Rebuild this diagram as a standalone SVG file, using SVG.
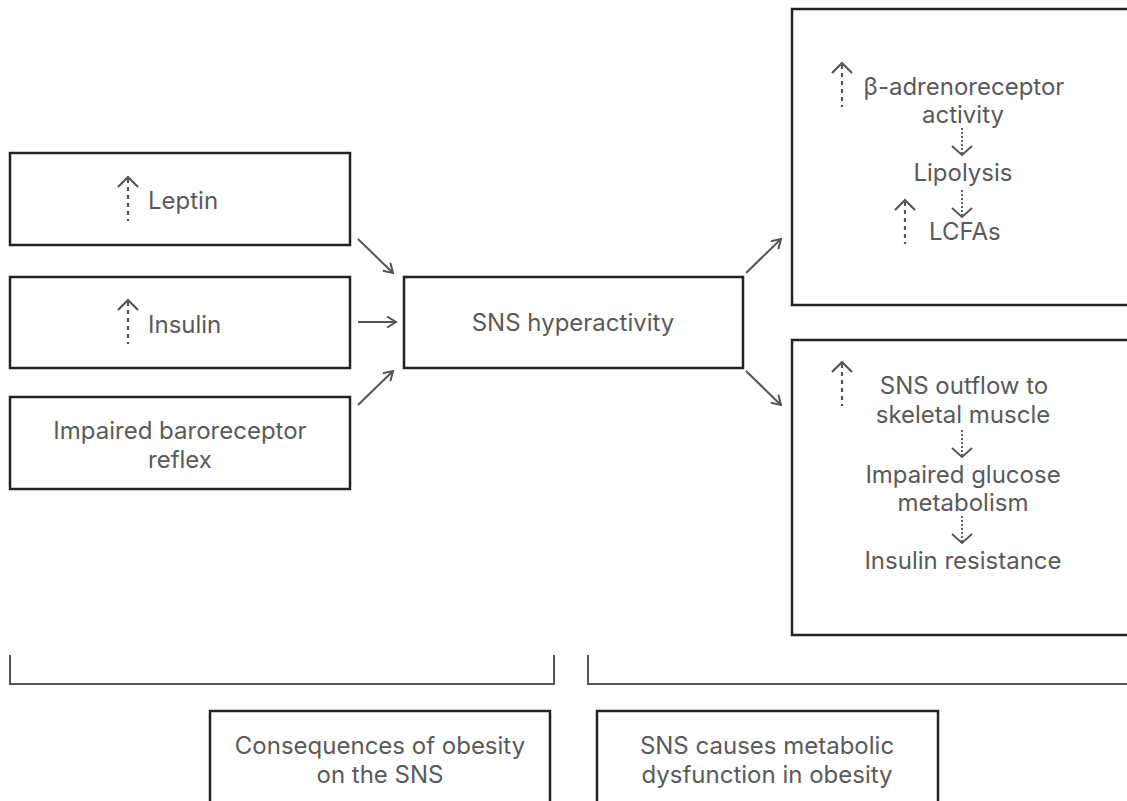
<svg xmlns="http://www.w3.org/2000/svg" width="1127" height="801" viewBox="0 0 1127 801">
<style>
.box{fill:#fff;stroke:#222;stroke-width:2.5}
.t{font-family:Inter,"Liberation Sans",sans-serif;font-size:24px;fill:#5a5a5a}
.c{text-anchor:middle}
.arr{fill:none;stroke:#555;stroke-width:2}
.up{fill:none;stroke:#555;stroke-width:2.2}
.upd{stroke-dasharray:4 4}
.dn{fill:none;stroke:#555;stroke-width:1.8}
.dnd{stroke-dasharray:2 2}
.br{fill:none;stroke:#555;stroke-width:2}
</style>
<defs>
<marker id="ah" viewBox="0 0 12 12" refX="10" refY="6" markerWidth="12" markerHeight="12" markerUnits="userSpaceOnUse" orient="auto">
<path d="M1,0.5 L10,6 L1,11.5" fill="none" stroke="#555" stroke-width="2"/>
</marker>
<g id="upicon">
<path class="up upd" d="M0,3 V45"/>
<path class="up" d="M-10,11 L0,1 L10,11"/>
</g>
<g id="dnicon">
<path class="dn dnd" d="M0,0 V26"/>
<path class="dn" d="M-10,18 L0,27 L10,18"/>
</g>
</defs>

<g id="node-leptin">
<rect class="box" x="10" y="153" width="340" height="92"/>
<use href="#upicon" x="128" y="176"/>
<text class="t" x="148" y="209">Leptin</text>
</g>
<g id="node-insulin">
<rect class="box" x="10" y="277" width="340" height="91"/>
<use href="#upicon" x="128" y="299"/>
<text class="t" x="148" y="333">Insulin</text>
</g>
<g id="node-baroreceptor">
<rect class="box" x="10" y="397" width="340" height="92"/>
<text class="t c" x="180" y="439">Impaired baroreceptor</text>
<text class="t c" x="180" y="468">reflex</text>
</g>
<g id="node-sns">
<rect class="box" x="404" y="277" width="339" height="91"/>
<text class="t c" x="573" y="331">SNS hyperactivity</text>
</g>
<g id="node-lipolysis">
<rect class="box" x="792" y="9" width="350" height="296"/>
<use href="#upicon" x="842" y="62"/>
<text class="t c" x="964" y="95">β-adrenoreceptor</text>
<text class="t c" x="963" y="123">activity</text>
<use href="#dnicon" x="962" y="128"/>
<text class="t c" x="963" y="181">Lipolysis</text>
<use href="#dnicon" x="962" y="190"/>
<use href="#upicon" x="905" y="199"/>
<text class="t" x="929" y="240">LCFAs</text>
</g>
<g id="node-insulin-resistance">
<rect class="box" x="792" y="340" width="350" height="295"/>
<use href="#upicon" x="842" y="361"/>
<text class="t c" x="964" y="394">SNS outflow to</text>
<text class="t c" x="963" y="423">skeletal muscle</text>
<use href="#dnicon" x="962" y="430"/>
<text class="t c" x="963" y="483">Impaired glucose</text>
<text class="t c" x="963" y="511">metabolism</text>
<use href="#dnicon" x="962" y="516"/>
<text class="t c" x="963" y="569">Insulin resistance</text>
</g>

<g id="connectors">
<path class="arr" d="M358,239 L393,273" marker-end="url(#ah)"/>
<path class="arr" d="M358,322 L396,322" marker-end="url(#ah)"/>
<path class="arr" d="M358,405 L393,371" marker-end="url(#ah)"/>
<path class="arr" d="M746,273 L781,239" marker-end="url(#ah)"/>
<path class="arr" d="M746,371 L781,405" marker-end="url(#ah)"/>
</g>

<g id="brackets">
<path class="br" d="M10,655 V684 H554 V655"/>
<path class="br" d="M588,655 V684 H1130"/>
</g>

<g id="label-consequences">
<rect class="box" x="210" y="711" width="340" height="110"/>
<text class="t c" x="380" y="754">Consequences of obesity</text>
<text class="t c" x="380" y="783">on the SNS</text>
</g>
<g id="label-metabolic">
<rect class="box" x="597" y="711" width="341" height="110"/>
<text class="t c" x="767" y="754">SNS causes metabolic</text>
<text class="t c" x="767" y="783">dysfunction in obesity</text>
</g>
</svg>
